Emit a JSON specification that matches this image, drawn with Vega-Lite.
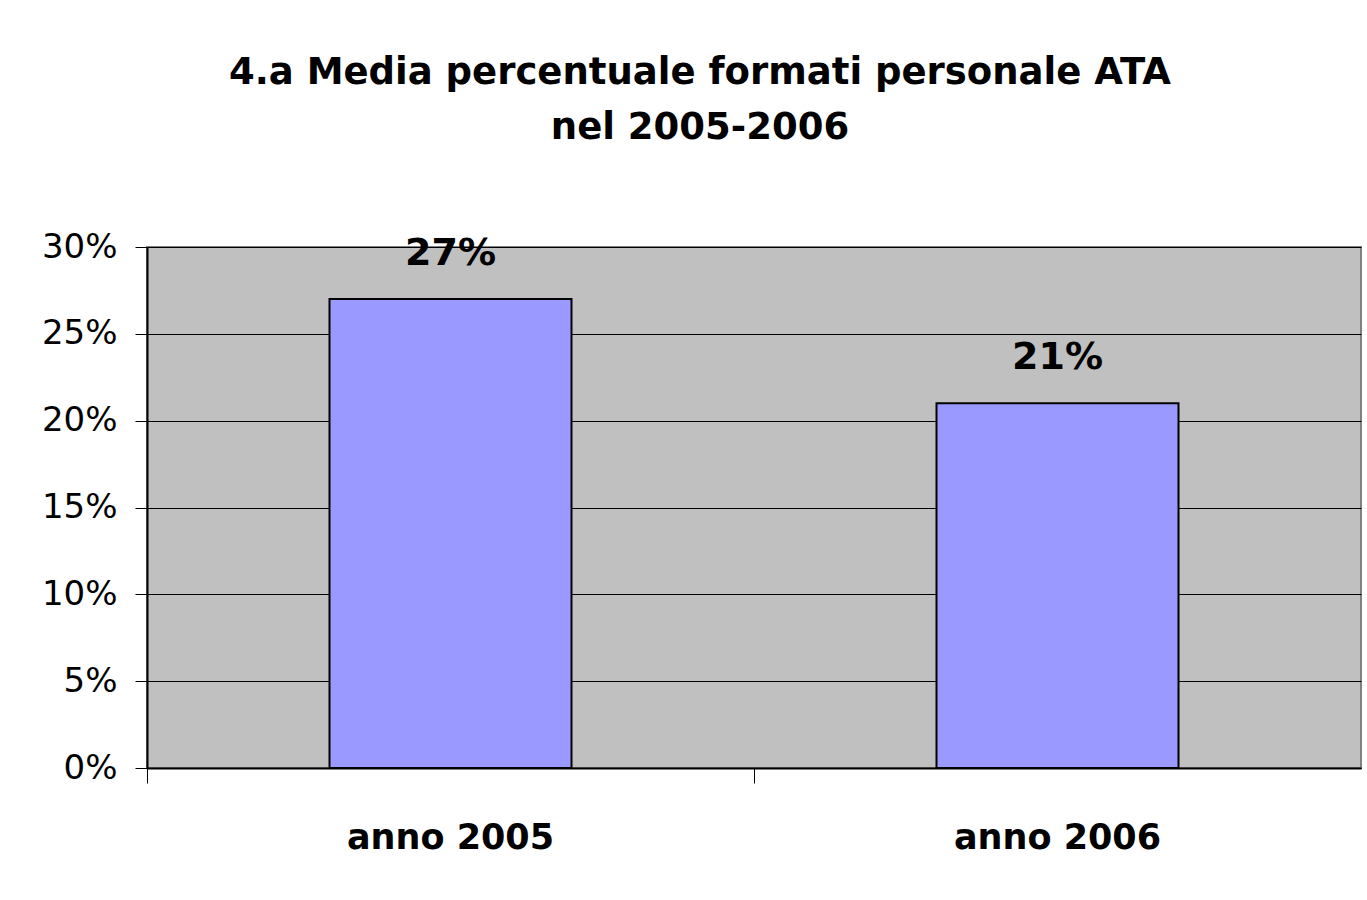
{
  "$schema": "https://vega.github.io/schema/vega-lite/v6.json",
  "autosize": {"type": "none"},
  "width": 1214,
  "height": 521,
  "padding": {"left": 147, "top": 247, "right": 6, "bottom": 132},
  "background": "white",
  "title": {
    "text": ["4.a Media percentuale formati personale ATA", "nel 2005-2006"],
    "font": "DejaVu Sans",
    "fontSize": 37,
    "fontWeight": "bold",
    "color": "black",
    "lineHeight": 55,
    "anchor": "middle",
    "baseline": "bottom",
    "dx": -54,
    "offset": 46
  },
  "config": {
    "view": {"fill": "#C0C0C0", "stroke": "#808080", "strokeWidth": 2}
  },
  "data": {
    "values": [
      {"anno": "anno 2005", "valore": 0.27},
      {"anno": "anno 2006", "valore": 0.21}
    ]
  },
  "encoding": {
    "x": {
      "field": "anno",
      "type": "nominal",
      "sort": null,
      "scale": {"paddingInner": 0, "paddingOuter": 0},
      "axis": {
        "title": null,
        "labelAngle": 0,
        "labelLimit": 0,
        "labelFont": "DejaVu Sans",
        "labelFontSize": 35,
        "labelFontWeight": "bold",
        "labelColor": "black",
        "labelBaseline": "alphabetic",
        "labelPadding": 65,
        "tickSize": 15,
        "tickColor": "black",
        "tickWidth": 1,
        "bandPosition": 0,
        "domainColor": "black",
        "domainWidth": 2,
        "grid": false
      }
    },
    "y": {
      "field": "valore",
      "type": "quantitative",
      "scale": {"domain": [0, 0.3], "nice": false},
      "axis": {
        "title": null,
        "format": ".0%",
        "values": [0, 0.05, 0.1, 0.15, 0.2, 0.25, 0.3],
        "labelFont": "DejaVu Sans",
        "labelFontSize": 34,
        "labelColor": "black",
        "labelPadding": 18,
        "tickSize": 12,
        "tickColor": "black",
        "tickWidth": 1,
        "domainColor": "black",
        "domainWidth": 2,
        "grid": true,
        "gridColor": "black",
        "gridWidth": 1,
        "gridOpacity": 1
      }
    }
  },
  "layer": [
    {
      "mark": {"type": "bar", "size": 242, "fill": "#9999FF", "stroke": "black", "strokeWidth": 2}
    },
    {
      "mark": {
        "type": "text",
        "font": "DejaVu Sans",
        "fontSize": 38,
        "fontWeight": "bold",
        "color": "black",
        "baseline": "alphabetic",
        "dy": -34
      },
      "encoding": {
        "text": {"field": "valore", "type": "quantitative", "format": ".0%"}
      }
    }
  ]
}
